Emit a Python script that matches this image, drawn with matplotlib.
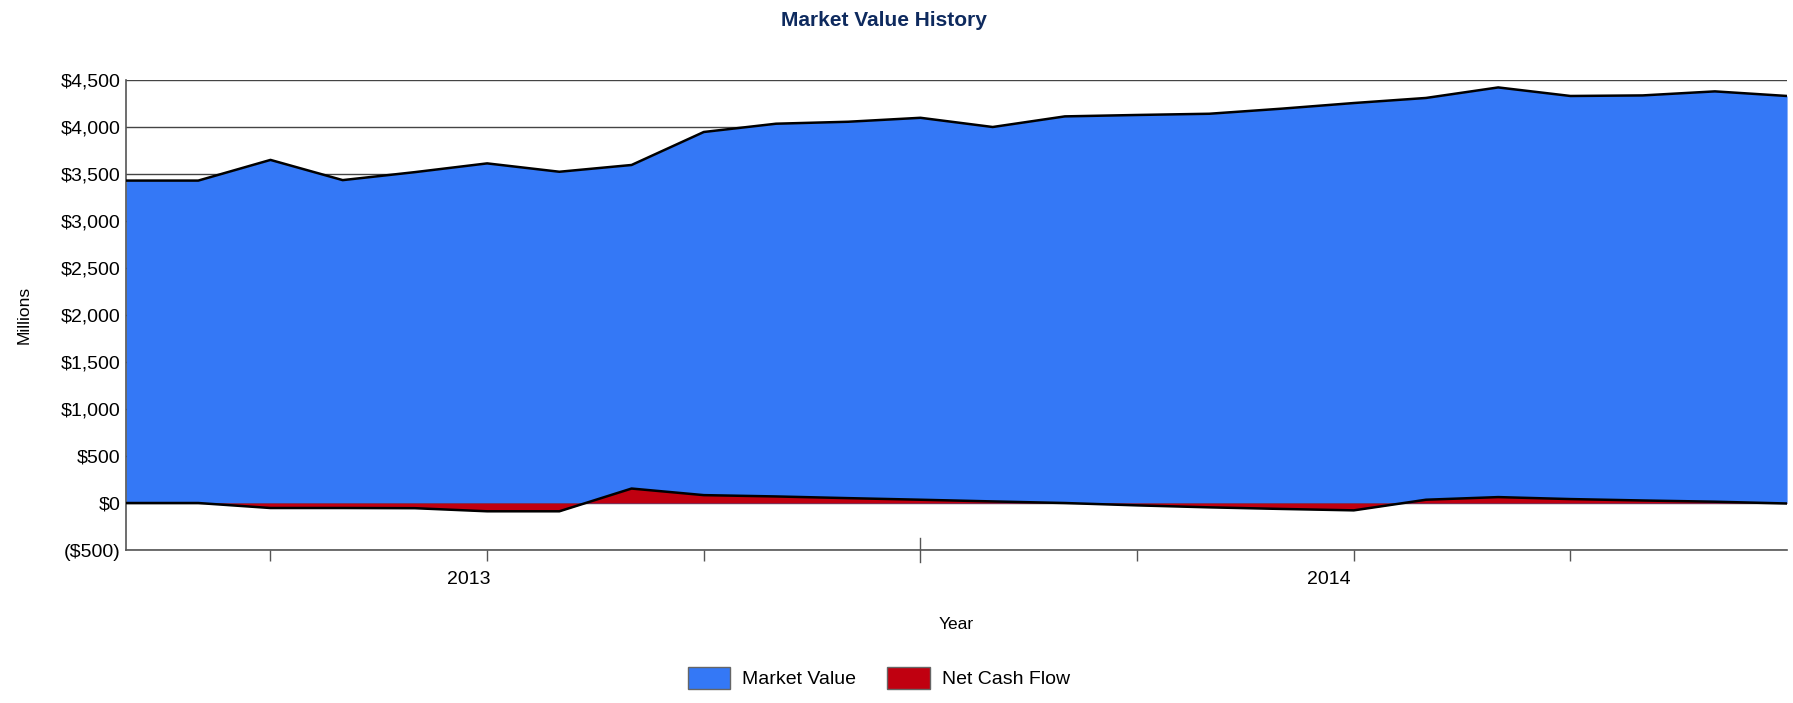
import matplotlib
matplotlib.use("Agg")
import matplotlib.pyplot as plt
import matplotlib.transforms as mtransforms
from matplotlib.patches import Patch
from matplotlib.ticker import FuncFormatter

plt.rcParams["font.family"] = ["Liberation Sans", "DejaVu Sans"]

# monthly points, index 0..23
months = list(range(24))
market_value = [3430, 3430, 3650, 3435, 3520, 3613, 3524, 3596, 3947, 4035, 4056, 4098,
                4000, 4113, 4128, 4141, 4195, 4255, 4309, 4421, 4330, 4336, 4379, 4330]
net_cash_flow = [0, 0, -53, -53, -55, -88, -88, 154, 84, 70, 52, 35,
                 17, 0, -25, -46, -63, -78, 35, 63, 42, 27, 14, -5]

quarter_ticks = [2, 5, 8, 14, 17, 20]
year_break = 11
year_labels = ["2013", "2014"]
year_label_pos = [4.75, 16.65]

blue = "#3478F6"
red = "#C00010"
navy = "#0E2A5E"

fig = plt.figure(figsize=(17.93, 7.03), dpi=100)
ax = fig.add_axes([0.0703, 0.2176, 0.9264, 0.6686])

ax.fill_between(months, 0, market_value, color=blue, lw=0, zorder=2)
ax.plot(months, market_value, color="black", lw=1.8, zorder=3)
ax.fill_between(months, 0, net_cash_flow, color=red, lw=0, zorder=4)
ax.plot(months, net_cash_flow, color="black", lw=1.8, zorder=5)

ax.set_xlim(0, 23)
ax.set_ylim(-500, 4500)
ax.set_yticks(range(-500, 4501, 500))


def money(v, pos):
    if v < 0:
        return "(${:,.0f})".format(-v)
    return "${:,.0f}".format(v)


ax.yaxis.set_major_formatter(FuncFormatter(money))
ax.tick_params(axis="y", length=0, pad=4, labelsize=14)
ax.grid(axis="y", color="#444444", lw=1.0, zorder=1)
ax.set_axisbelow(True)

ax.set_xticks(year_label_pos, year_labels)
ax.tick_params(axis="x", which="major", length=0, pad=15, labelsize=14)
ax.set_xticks(quarter_ticks, minor=True)
ax.tick_params(axis="x", which="minor", length=8, width=1, color="#555555")

trans = mtransforms.blended_transform_factory(ax.transData, ax.transAxes)
ax.plot([year_break, year_break], [-0.026, 0.025], transform=trans,
        color="#555555", lw=1, clip_on=False)

for s in ["top", "right"]:
    ax.spines[s].set_visible(False)
for s in ["left", "bottom"]:
    ax.spines[s].set_color("#555555")
    ax.spines[s].set_linewidth(1.2)

ax.set_ylabel("Millions", fontsize=12.5, labelpad=21)
ax.set_xlabel("Year", fontsize=12.5, labelpad=21)
fig.suptitle("Market Value History", x=0.493, y=0.985, fontsize=15, fontweight="bold", color=navy)

handles = [Patch(facecolor=blue, edgecolor="#666666", label="Market Value"),
           Patch(facecolor=red, edgecolor="#666666", label="Net Cash Flow")]
fig.legend(handles=handles, loc="lower center", bbox_to_anchor=(0.49, -0.005), ncol=2,
           frameon=False, fontsize=14, handlelength=2.2, handleheight=1.4,
           handletextpad=0.6, columnspacing=1.6)

fig.savefig("out.png", dpi=100)
